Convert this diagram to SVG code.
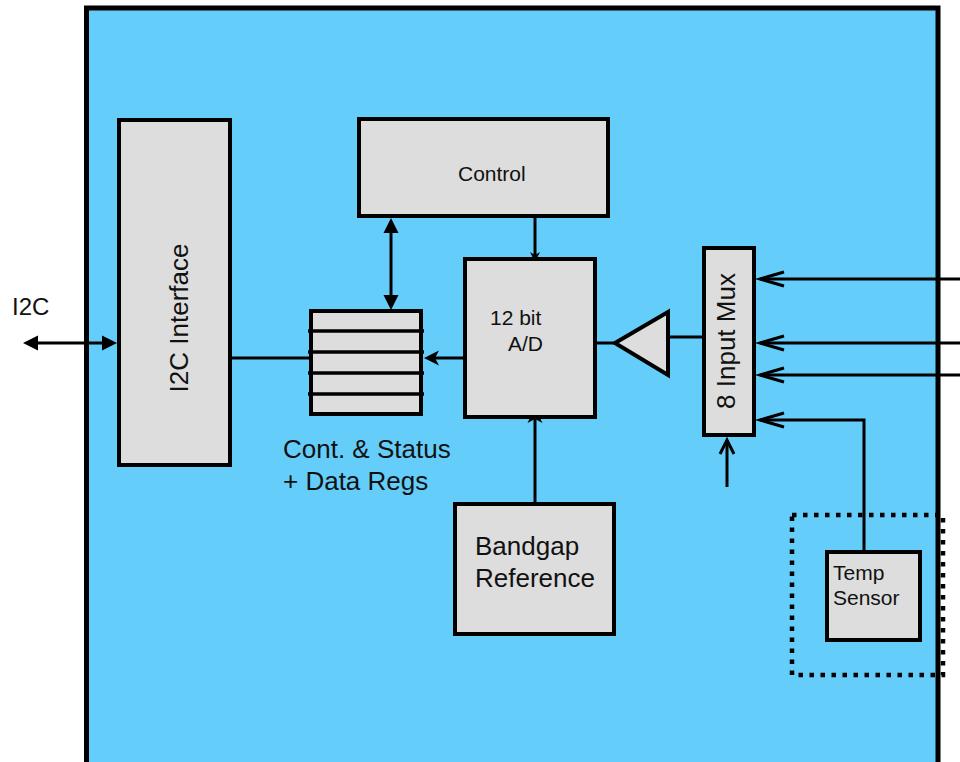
<svg xmlns="http://www.w3.org/2000/svg" width="960" height="762" viewBox="0 0 960 762">
  <style>
    .chip { fill: #64CDF9; stroke: #000; stroke-width: 5; }
    .blk { fill: #DDDDDD; stroke: #000; stroke-width: 4; }
    .wire { fill: none; stroke: #000; stroke-width: 3; }
    .reg { stroke: #000; stroke-width: 3.5; }
    .dots { fill: none; stroke: #000; stroke-width: 4.5; stroke-dasharray: 4.5 6.5; }
    text { font-family: "Liberation Sans", Arial, Helvetica, sans-serif; fill: #111; }
    .big { font-size: 26px; }
    .small { font-size: 21px; }
  </style>
  <defs>
    <marker id="solid" markerUnits="userSpaceOnUse" markerWidth="16" markerHeight="16" refX="11" refY="7.5" orient="auto-start-reverse" overflow="visible">
      <path d="M0,0 L15,7.5 L0,15 z" fill="#000"/>
    </marker>
    <marker id="barb" markerUnits="userSpaceOnUse" markerWidth="16" markerHeight="16" refX="11" refY="7.5" orient="auto" overflow="visible">
      <path d="M0,0 L15,7.5 L0,15 L4,7.5 z" fill="#000"/>
    </marker>
    <marker id="tiny" markerUnits="userSpaceOnUse" markerWidth="11" markerHeight="11" refX="7" refY="5" orient="auto" overflow="visible">
      <path d="M0,0 L10,5 L0,10 L3,5 z" fill="#000"/>
    </marker>
    <marker id="open" markerUnits="userSpaceOnUse" markerWidth="26" markerHeight="16" refX="24" refY="7" orient="auto" overflow="visible">
      <path d="M0,0 L24,7 L0,14" fill="none" stroke="#000" stroke-width="3"/>
    </marker>
    <marker id="open-short" markerUnits="userSpaceOnUse" markerWidth="16" markerHeight="16" refX="14" refY="7" orient="auto" overflow="visible">
      <path d="M0,0 L14,7 L0,14" fill="none" stroke="#000" stroke-width="3"/>
    </marker>
  </defs>

  <!-- chip outline -->
  <rect class="chip" x="86.5" y="8" width="851.5" height="760"/>

  <!-- connectors -->
  <g id="connectors">
    <line class="wire" x1="27" y1="343" x2="113" y2="343" marker-start="url(#solid)" marker-end="url(#solid)"/>
    <line class="wire" x1="232" y1="358" x2="311" y2="358"/>
    <line class="wire" x1="391" y1="222" x2="391" y2="306" marker-start="url(#solid)" marker-end="url(#solid)"/>
    <line class="wire" x1="470" y1="358" x2="428" y2="358" marker-end="url(#barb)"/>
    <line class="wire" x1="535" y1="218" x2="535" y2="259" marker-end="url(#tiny)"/>
    <line class="wire" x1="535" y1="502" x2="535" y2="412" marker-end="url(#barb)"/>
    <line class="wire" x1="597" y1="343" x2="615" y2="343"/>
    <line class="wire" x1="668" y1="337" x2="702" y2="337"/>
    <line class="wire" x1="962" y1="279" x2="760" y2="279" marker-end="url(#open)"/>
    <line class="wire" x1="962" y1="343" x2="760" y2="343" marker-end="url(#open)"/>
    <line class="wire" x1="962" y1="375" x2="760" y2="375" marker-end="url(#open)"/>
    <polyline class="wire" points="864,551 864,420 760,420" marker-end="url(#open)"/>
    <line class="wire" x1="727" y1="487" x2="727" y2="440" marker-end="url(#open-short)"/>
  </g>

  <text x="12" y="315" style="font-size:24px">I2C</text>

  <g id="i2c-interface">
    <rect class="blk" x="119" y="120" width="111" height="345"/>
    <text class="big" transform="translate(188,318) rotate(-90)" text-anchor="middle">I2C Interface</text>
  </g>

  <g id="control">
    <rect class="blk" x="359" y="119" width="249" height="97"/>
    <text class="small" x="458" y="181">Control</text>
  </g>

  <g id="registers">
    <rect class="blk" x="311" y="311" width="110" height="103"/>
    <line class="reg" x1="308" y1="331" x2="424" y2="331"/>
    <line class="reg" x1="308" y1="352" x2="424" y2="352"/>
    <line class="reg" x1="308" y1="373" x2="424" y2="373"/>
    <line class="reg" x1="308" y1="394" x2="424" y2="394"/>
    <text class="big" x="283" y="458">Cont. &amp; Status</text>
    <text class="big" x="283" y="490">+ Data Regs</text>
  </g>

  <g id="adc">
    <rect class="blk" x="465" y="259" width="130" height="158"/>
    <text class="small" x="490" y="325">12 bit</text>
    <text class="small" x="508" y="351">A/D</text>
  </g>

  <g id="amplifier">
    <polygon class="blk" points="615,343 668,312 668,375"/>
  </g>

  <g id="input-mux">
    <rect class="blk" x="704" y="248" width="50" height="187"/>
    <text class="big" transform="translate(735,341) rotate(-90)" text-anchor="middle">8 Input Mux</text>
  </g>

  <g id="bandgap">
    <rect class="blk" x="455" y="504" width="159" height="130"/>
    <text class="big" x="475" y="555">Bandgap</text>
    <text class="big" x="475" y="587">Reference</text>
  </g>

  <g id="temp-sensor">
    <rect class="dots" x="792" y="515" width="151" height="160"/>
    <rect class="blk" x="827" y="552" width="93" height="88"/>
    <text class="small" x="833" y="580">Temp</text>
    <text class="small" x="833" y="605">Sensor</text>
  </g>
</svg>
